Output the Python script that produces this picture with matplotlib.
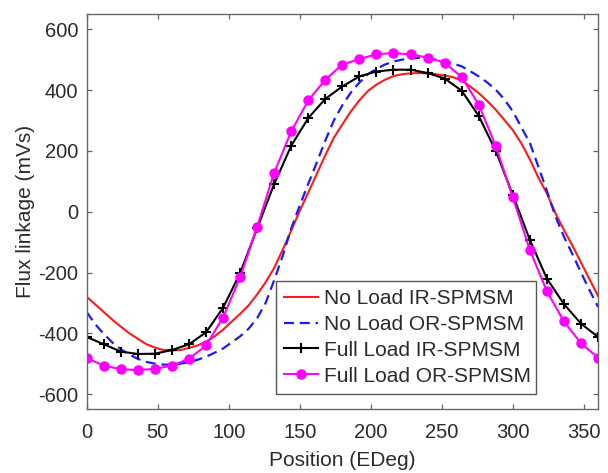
import matplotlib
matplotlib.use("Agg")
import matplotlib.pyplot as plt

plt.rcParams['font.family'] = ['Liberation Sans', 'DejaVu Sans']
plt.rcParams['axes.unicode_minus'] = False

# No-load curves (read every 6 deg)
pos_fine = list(range(0, 361, 6))
noload_ir = [-280, -305, -330, -355, -378, -400, -418, -436, -447, -455,
             -456, -455, -448, -440, -428, -410, -388, -362, -336, -308,
             -272, -232, -185, -125, -62, 3, 63, 124, 186, 243,
             287, 330, 366, 397, 418, 434, 446, 452, 455, 456,
             455, 452, 448, 442, 432, 412, 390, 364, 335, 302,
             268, 225, 172, 112, 60, -5, -60, -112, -167, -222,
             -277]
noload_or = [-330, -370, -402, -430, -452, -470, -484, -494, -500, -503,
             -503, -500, -495, -487, -477, -464, -450, -430, -410, -385,
             -350, -300, -225, -145, -55, 20, 92, 162, 234, 300,
             350, 392, 425, 452, 470, 484, 494, 500, 504, 506,
             504, 500, 495, 487, 478, 462, 445, 425, 401, 370,
             330, 278, 226, 148, 68, -15, -82, -140, -200, -258,
             -313]

# Full-load curves (markers every 12 deg)
pos_marker = list(range(0, 361, 12))
fullload_ir = [-412, -436, -460, -468, -467, -455, -436, -397, -316, -202,
               -55, 91, 217, 308, 371, 412, 445, 461, 467, 467,
               456, 438, 398, 315, 200, 55, -93, -220, -304, -368,
               -412]
fullload_or = [-482, -506, -518, -521, -517, -506, -484, -440, -348, -216,
               -50, 128, 264, 366, 434, 484, 502, 518, 522, 517,
               507, 490, 443, 352, 216, 47, -126, -262, -361, -433,
               -480]

labels = ["No Load IR-SPMSM", "No Load OR-SPMSM",
          "Full Load IR-SPMSM", "Full Load OR-SPMSM"]
xticks = [0, 50, 100, 150, 200, 250, 300, 350]
yticks = [-600, -400, -200, 0, 200, 400, 600]

text_color = '#2b2b2b'
axis_color = '#666666'

fig = plt.figure(figsize=(6.08, 4.73), dpi=100)
ax = fig.add_axes([0.1426, 0.1346, 0.841, 0.8357])

ax.plot(pos_fine, noload_ir, color='#ff1a1a', lw=1.5, label=labels[0])
ax.plot(pos_fine, noload_or, color='#1a1aff', lw=1.6, ls=(0, (4.5, 2.6)),
        label=labels[1])
ax.plot(pos_marker, fullload_ir, color='black', lw=1.5, marker='+',
        markersize=7, markeredgewidth=1.5, label=labels[2])
ax.plot(pos_marker, fullload_or, color='#ff00ff', lw=1.5, marker='o',
        markersize=6.5, label=labels[3])

ax.set_xlim(0, 360)
ax.set_ylim(-650, 650)
ax.set_xticks(xticks)
ax.set_yticks(yticks)
ax.tick_params(direction='in', length=3.5, width=0.9, colors=axis_color,
               labelcolor=text_color, labelsize=14.5, top=True, right=True)
ax.tick_params(axis='x', pad=10)
ax.tick_params(axis='y', pad=6)
for s in ax.spines.values():
    s.set_color(axis_color)
    s.set_linewidth(1.0)

ax.set_xlabel("Position (EDeg)", fontsize=15, color=text_color, labelpad=6)
ax.set_ylabel("Flux linkage (mVs)", fontsize=15, color=text_color, labelpad=2)

leg = ax.legend(loc='lower left', bbox_to_anchor=(0.370, 0.039, 0.509, 0.298),
                mode='expand', borderaxespad=0, fontsize=15, frameon=True,
                fancybox=False, edgecolor='#555555', framealpha=1,
                handlelength=1.6, handletextpad=0.3, labelspacing=0.33,
                borderpad=0.4)
leg.get_frame().set_linewidth(1.0)
for t in leg.get_texts():
    t.set_color(text_color)

fig.savefig("out.png", dpi=100)
